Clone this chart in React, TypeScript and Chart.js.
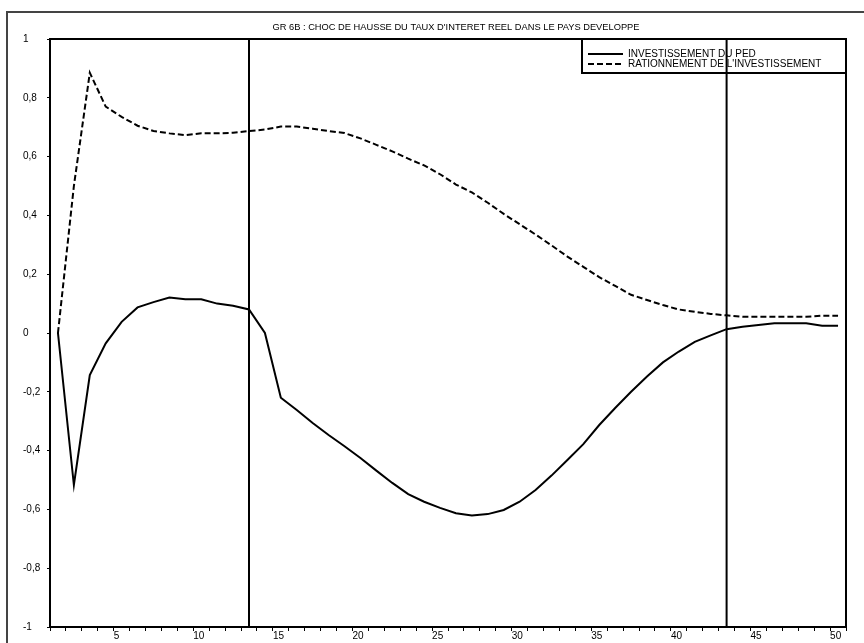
import React, { useEffect, useRef } from "react";
import { Chart, registerables } from "chart.js";

Chart.register(...registerables);

const chartTitle = "GR 6B : CHOC DE HAUSSE DU TAUX D'INTERET REEL DANS LE PAYS DEVELOPPE";
const seriesNames = ["INVESTISSEMENT DU PED", "RATIONNEMENT DE L'INVESTISSEMENT"];

const periods = [
  1, 2, 3, 4, 5, 6, 7, 8, 9, 10, 11, 12, 13, 14, 15, 16, 17, 18, 19, 20, 21, 22, 23, 24, 25,
  26, 27, 28, 29, 30, 31, 32, 33, 34, 35, 36, 37, 38, 39, 40, 41, 42, 43, 44, 45, 46, 47, 48, 49, 50,
];

const investissement = [
  0.0, -0.517, -0.143, -0.035, 0.038, 0.087, 0.105, 0.121, 0.115, 0.115,
  0.1, 0.093, 0.08, 0.0, -0.22, -0.262, -0.306, -0.347, -0.385, -0.425,
  -0.468, -0.51, -0.548, -0.574, -0.595, -0.613, -0.621, -0.616, -0.602, -0.574,
  -0.534, -0.485, -0.432, -0.378, -0.313, -0.255, -0.2, -0.148, -0.1, -0.063,
  -0.03, -0.008, 0.013, 0.021, 0.027, 0.033, 0.033, 0.033, 0.025, 0.025,
];

const rationnement = [
  0.0, 0.5, 0.885, 0.77, 0.735, 0.705, 0.687, 0.679, 0.673, 0.679,
  0.679, 0.681, 0.687, 0.692, 0.702, 0.702, 0.695, 0.687, 0.68, 0.662,
  0.64, 0.618, 0.593, 0.57, 0.54, 0.505, 0.478, 0.443, 0.405, 0.37,
  0.335, 0.298, 0.26, 0.225, 0.19, 0.16, 0.13, 0.112, 0.095, 0.08,
  0.072, 0.065, 0.06, 0.055, 0.055, 0.055, 0.055, 0.055, 0.059, 0.059,
];

const verticalMarks = [13, 43];

const xTickLabels = ["5", "10", "15", "20", "25", "30", "35", "40", "45", "50"];
const yTickLabels = ["-1", "-0,8", "-0,6", "-0,4", "-0,2", "0", "0,2", "0,4", "0,6", "0,8", "1"];

const FONT = "'Liberation Sans', Arial, sans-serif";

const decorPlugin = {
  id: "decor",
  beforeDatasetsDraw(chart: any) {
    const ctx = chart.ctx;
    const a = chart.chartArea;
    const lx = 582;
    const ly = a.top;
    const lw = a.right - lx;
    const lh = 34;
    ctx.save();
    ctx.fillStyle = "#ffffff";
    ctx.fillRect(lx, ly, lw, lh);
    ctx.strokeStyle = "#000";
    ctx.lineWidth = 2;
    ctx.strokeRect(lx, ly, lw, lh);
    ctx.font = `10px ${FONT}`;
    ctx.fillStyle = "#000";
    ctx.textBaseline = "middle";
    ctx.textAlign = "left";
    const rows = [ly + 15, ly + 25];
    rows.forEach((yy, i) => {
      ctx.beginPath();
      ctx.lineWidth = 2;
      ctx.setLineDash(i === 0 ? [] : [6, 3]);
      ctx.moveTo(588, yy);
      ctx.lineTo(623, yy);
      ctx.stroke();
      ctx.setLineDash([]);
      ctx.fillText(seriesNames[i], 628, yy);
    });
    ctx.restore();
  },
  afterDraw(chart: any) {
    const ctx = chart.ctx;
    const a = chart.chartArea;
    ctx.save();
    ctx.strokeStyle = "#000";
    ctx.lineWidth = 2;
    ctx.strokeRect(a.left, a.top, a.right - a.left, a.bottom - a.top);
    ctx.strokeStyle = "#444";
    ctx.beginPath();
    ctx.moveTo(7, chart.height);
    ctx.lineTo(7, 12);
    ctx.lineTo(chart.width, 12);
    ctx.stroke();
    ctx.fillStyle = "#000";
    ctx.font = `9.3px ${FONT}`;
    ctx.textAlign = "center";
    ctx.textBaseline = "middle";
    ctx.fillText(chartTitle, 456, 27);
    ctx.restore();
  },
};

export default function App() {
  const ref = useRef<HTMLCanvasElement | null>(null);

  useEffect(() => {
    if (!ref.current) return;
    const solid = periods.map((p, i) => ({ x: p, y: investissement[i] }));
    const dashed = periods.map((p, i) => ({ x: p, y: rationnement[i] }));
    const verticals = verticalMarks.map((v) => ({
      label: "v" + v,
      data: [
        { x: v, y: -1 },
        { x: v, y: 1 },
      ],
      borderColor: "#000",
      borderWidth: 2,
      pointRadius: 0,
      fill: false,
    }));
    const chart = new Chart(ref.current, {
      type: "line",
      data: {
        datasets: [
          {
            label: seriesNames[0],
            data: solid,
            borderColor: "#000",
            borderWidth: 2,
            pointRadius: 0,
            tension: 0,
            fill: false,
          },
          {
            label: seriesNames[1],
            data: dashed,
            borderColor: "#000",
            borderWidth: 2,
            borderDash: [6, 3],
            pointRadius: 0,
            tension: 0,
            fill: false,
          },
          ...verticals,
        ],
      },
      options: {
        animation: false,
        responsive: false,
        events: [],
        layout: { padding: { top: 39, left: 23, right: 18, bottom: 0 } },
        plugins: {
          legend: { display: false },
          title: { display: false },
          tooltip: { enabled: false },
        },
        scales: {
          x: {
            type: "linear",
            min: 0.5,
            max: 50.5,
            afterBuildTicks: (axis: any) => {
              const t = [];
              for (let i = 0; i <= periods.length; i++) t.push({ value: i + 0.5 });
              axis.ticks = t;
            },
            afterFit: (axis: any) => {
              axis.height = 16;
            },
            border: { display: true, color: "#000", width: 2 },
            grid: { drawOnChartArea: false, drawTicks: true, tickLength: 4, color: "#000", lineWidth: 1 },
            ticks: {
              autoSkip: false,
              maxRotation: 0,
              minRotation: 0,
              align: "start",
              padding: -1,
              color: "#000",
              font: { family: FONT, size: 10 },
              callback: (v: any) => {
                const c = String(Math.round(Number(v) + 0.5));
                return xTickLabels.includes(c) ? c : "";
              },
            },
          },
          y: {
            type: "linear",
            min: -1,
            max: 1,
            afterFit: (axis: any) => {
              axis.width = 27;
            },
            border: { display: true, color: "#000", width: 2 },
            grid: { drawOnChartArea: false, drawTicks: true, tickLength: 3, color: "#000", lineWidth: 1 },
            ticks: {
              stepSize: 0.2,
              crossAlign: "far",
              color: "#000",
              font: { family: FONT, size: 10 },
              callback: (_v: any, i: number) => yTickLabels[i],
            },
          },
        },
      },
      plugins: [decorPlugin],
    } as any);
    return () => chart.destroy();
  }, []);

  return (
    <div style={{ position: "fixed", left: 0, top: 0, width: 864, height: 643, background: "#fff" }}>
      <canvas ref={ref} width={864} height={643} style={{ display: "block" }} />
    </div>
  );
}
